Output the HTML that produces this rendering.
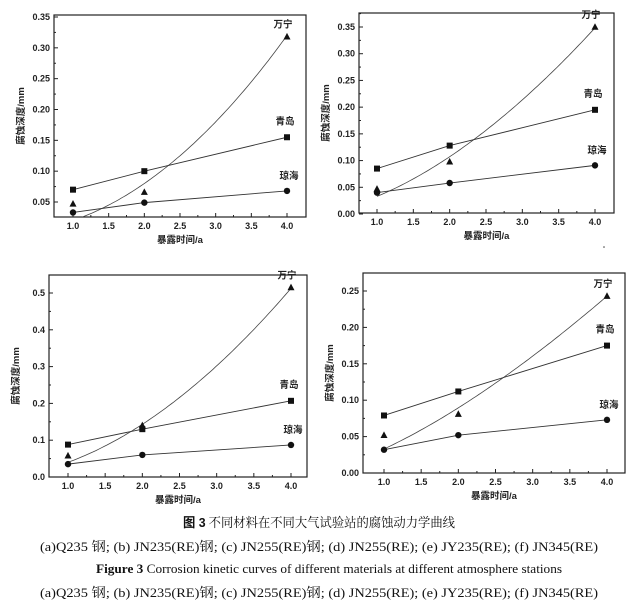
<!DOCTYPE html>
<html><head><meta charset="utf-8">
<style>
html,body{margin:0;padding:0;background:#fff;}
svg{display:block;}
.tk{font-family:"Liberation Sans",sans-serif;font-size:9px;font-weight:bold;fill:#222;}
.ttl{font-family:"Liberation Sans","Noto Sans CJK SC",sans-serif;font-size:9.5px;font-weight:bold;fill:#222;}
.cap{font-family:"Liberation Serif","Noto Serif CJK SC",serif;font-size:13px;fill:#111;}
</style></head>
<body>
<svg id="fig" width="638" height="605" viewBox="0 0 638 605">
<text class="cap" x="183" y="527" textLength="272" lengthAdjust="spacingAndGlyphs"><tspan font-weight="bold" font-family="Liberation Sans,Noto Sans CJK SC,sans-serif">图 3</tspan> 不同材料在不同大气试验站的腐蚀动力学曲线</text>
<text class="cap" x="40" y="551" textLength="558" lengthAdjust="spacingAndGlyphs">(a)Q235 钢;   (b) JN235(RE)钢;   (c) JN255(RE)钢;   (d) JN255(RE);  (e) JY235(RE);   (f) JN345(RE)</text>
<text class="cap" x="96" y="573" textLength="466" lengthAdjust="spacingAndGlyphs"><tspan font-weight="bold">Figure 3</tspan> Corrosion kinetic curves of different materials at different atmosphere stations</text>
<text class="cap" x="40" y="597" textLength="558" lengthAdjust="spacingAndGlyphs">(a)Q235 钢;   (b) JN235(RE)钢;   (c) JN255(RE)钢;   (d) JN255(RE);  (e) JY235(RE);   (f) JN345(RE)</text>
<circle cx="604" cy="247" r="0.8" fill="#444"/>
</svg>
<script>
// Data (one set of arrays per panel)
const years = [1, 2, 4];
const qingdaoA = [0.070, 0.100, 0.155];
const qionghaiA = [0.033, 0.049, 0.068];
const wanningA = [0.047, 0.066, 0.318];
const wanningFitA = [0.020, 2.0];
const qingdaoB = [0.085, 0.128, 0.195];
const qionghaiB = [0.040, 0.058, 0.091];
const wanningB = [0.047, 0.098, 0.350];
const wanningFitB = [0.033, 1.7];
const qingdaoC = [0.088, 0.130, 0.207];
const qionghaiC = [0.035, 0.060, 0.087];
const wanningC = [0.058, 0.140, 0.515];
const wanningFitC = [0.040, 1.84];
const qingdaoD = [0.079, 0.112, 0.175];
const qionghaiD = [0.032, 0.052, 0.073];
const wanningD = [0.052, 0.081, 0.243];
const wanningFitD = [0.033, 1.44];
const xTickLabels = ["1.0","1.5","2.0","2.5","3.0","3.5","4.0"];
const yTicksA = ["0.05","0.10","0.15","0.20","0.25","0.30","0.35"];
const yTicksB = ["0.00","0.05","0.10","0.15","0.20","0.25","0.30","0.35"];
const yTicksC = ["0.0","0.1","0.2","0.3","0.4","0.5"];
const yTicksD = ["0.00","0.05","0.10","0.15","0.20","0.25"];

const NS = "http://www.w3.org/2000/svg";
const fig = document.getElementById('fig');
function mk(tag, attrs, parent){const e=document.createElementNS(NS,tag);for(const k in attrs)e.setAttribute(k,attrs[k]);(parent||fig).appendChild(e);return e;}

const panels = [
 {id:'a', box:[54,15,306,217], xr:[73,287], yv:[0.05,0.35], yp:[202,17], ticks:yTicksA, q:qingdaoA, h:qionghaiA, w:wanningA, fit:wanningFitA, xt:243},
 {id:'b', box:[359,13,614,213], xr:[377,595], yv:[0,0.35], yp:[214,27], ticks:yTicksB, q:qingdaoB, h:qionghaiB, w:wanningB, fit:wanningFitB, xt:239},
 {id:'c', box:[49,275,307,477], xr:[68,291], yv:[0,0.5], yp:[477,293], ticks:yTicksC, q:qingdaoC, h:qionghaiC, w:wanningC, fit:wanningFitC, xt:503},
 {id:'d', box:[363,273,625,473], xr:[384,607], yv:[0,0.25], yp:[473,291], ticks:yTicksD, q:qingdaoD, h:qionghaiD, w:wanningD, fit:wanningFitD, xt:499}
];

panels.forEach(p=>{
 const g = mk('g',{});
 
 
 const [L,T,R,B]=p.box;
 const X = v => p.xr[0] + (v-1)/3*(p.xr[1]-p.xr[0]);
 const Y = v => p.yp[0] + (v-p.yv[0])/(p.yv[1]-p.yv[0])*(p.yp[1]-p.yp[0]);
 const clipId='clip'+p.id;
 const cp=mk('clipPath',{id:clipId},g);mk('rect',{x:L,y:T,width:R-L,height:B-T},cp);
 const frame=mk('rect',{x:L,y:T,width:R-L,height:B-T,fill:'none',stroke:'#222','stroke-width':1.2},g);
 
 
 xTickLabels.forEach((lab,i)=>{
  const v=parseFloat(lab), x=X(v);
  mk('line',{x1:x,y1:B,x2:x,y2:B-4,stroke:'#222','stroke-width':1},g);
  if(i<xTickLabels.length-1) mk('line',{x1:X(v+0.25),y1:B,x2:X(v+0.25),y2:B-2,stroke:'#222','stroke-width':1},g);
  const t=mk('text',{x:x,y:B+12,'text-anchor':'middle',class:'tk'},g);t.textContent=lab;
  
  
 });
 const step=parseFloat(p.ticks[1])-parseFloat(p.ticks[0]);
 p.ticks.forEach(lab=>{
  const v=parseFloat(lab), y=Y(v);
  mk('line',{x1:L,y1:y,x2:L+4,y2:y,stroke:'#222','stroke-width':1},g);
  const ym=Y(v+step/2); if(ym>T) mk('line',{x1:L,y1:ym,x2:L+2,y2:ym,stroke:'#222','stroke-width':1},g);
  const t=mk('text',{x:L-4,y:y+3,'text-anchor':'end',class:'tk'},g);t.textContent=lab;
  
  
 });
 const xt=mk('text',{x:(L+R)/2,y:p.xt,'text-anchor':'middle',class:'ttl'},g);xt.textContent='暴露时间/a';
 
 
 const yx=L-30, yy=(T+B)/2;
 const yt=mk('text',{x:yx,y:yy,'text-anchor':'middle',class:'ttl',transform:`rotate(-90 ${yx} ${yy})`},g);yt.textContent='腐蚀深度/mm';
 
 
 const dg=mk('g',{'clip-path':`url(#${clipId})`},g);
 let d='';
 for(let i=0;i<=80;i++){const t=1.0+i*(3.0/80);const v=p.fit[0]*Math.pow(t,p.fit[1]);d+=(i?'L':'M')+X(t).toFixed(1)+','+Y(v).toFixed(1);}
 const fc=mk('path',{d:d,fill:'none',stroke:'#444','stroke-width':0.8},dg);
 
 
 [['qingdao',p.q],['qionghai',p.h]].forEach(([nm,arr])=>{
  const pl=mk('polyline',{points:arr.map((v,i)=>X(years[i])+','+Y(v)).join(' '),fill:'none',stroke:'#333','stroke-width':0.9},dg);
  
  
 });
 p.q.forEach((v,i)=>{const r=mk('rect',{x:X(years[i])-3,y:Y(v)-3,width:6,height:6,fill:'#111'},g);
  
  });
 p.h.forEach((v,i)=>{const c=mk('circle',{cx:X(years[i]),cy:Y(v),r:3.2,fill:'#111'},g);
  
  });
 p.w.forEach((v,i)=>{const x=X(years[i]),y=Y(v);const tr=mk('polygon',{points:`${x},${y-3.8} ${x-3.5},${y+2.8} ${x+3.5},${y+2.8}`,fill:'#111'},g);
  
  });
 const lx=X(4);
 const l1=mk('text',{x:lx-4,y:Y(p.w[2])-9,'text-anchor':'middle',class:'ttl'},g);l1.textContent='万宁';
 
 
 const l2=mk('text',{x:lx-2,y:Y(p.q[2])-13,'text-anchor':'middle',class:'ttl'},g);l2.textContent='青岛';
 
 
 const l3=mk('text',{x:lx+2,y:Y(p.h[2])-12,'text-anchor':'middle',class:'ttl'},g);l3.textContent='琼海';
 
 
});
</script>
</body></html>
